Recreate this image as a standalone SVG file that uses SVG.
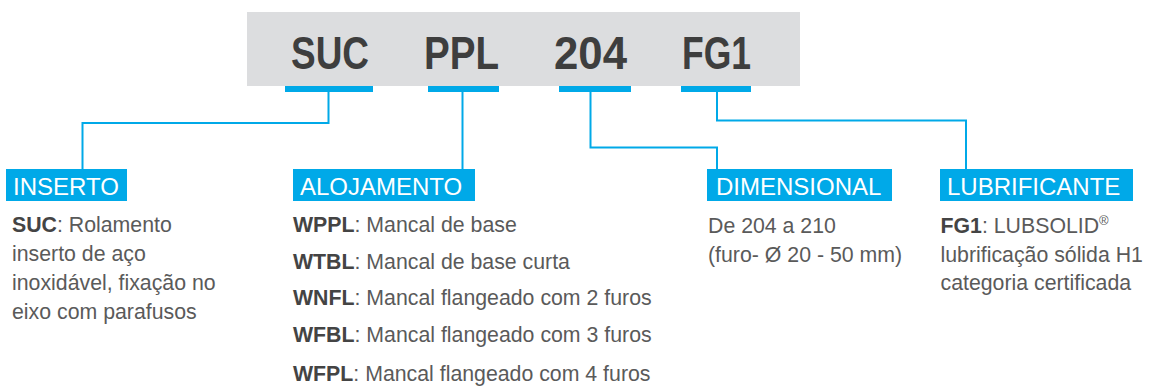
<svg xmlns="http://www.w3.org/2000/svg" width="1157" height="387" viewBox="0 0 1157 387">
<style>
.code{font-family:"Liberation Sans Narrow","Liberation Sans",Arial,sans-serif;font-weight:bold;font-size:47px;fill:#3e3e3e}
.bar{fill:#00a9e8}
.lbox{fill:#00a9e8}
.ltxt{font-family:"Liberation Sans",Arial,sans-serif;font-size:24px;fill:#ffffff}
.desc{font-family:"Liberation Sans",Arial,sans-serif;font-size:21.3px;fill:#5a5a5a}
.b{font-weight:bold;fill:#444444}
.conn{fill:none;stroke:#00a9e8;stroke-width:2}
</style>
<rect width="1157" height="387" fill="#ffffff"/>
<g id="code">
<rect x="247" y="12" width="553" height="74" fill="#dcdddf"/>
<text class="code" x="291" y="69" textLength="78" lengthAdjust="spacingAndGlyphs">SUC</text>
<text class="code" x="424" y="69" textLength="75" lengthAdjust="spacingAndGlyphs">PPL</text>
<text class="code" x="554" y="69" textLength="73" lengthAdjust="spacingAndGlyphs">204</text>
<text class="code" x="682" y="69" textLength="69" lengthAdjust="spacingAndGlyphs">FG1</text>
<rect class="bar" x="285" y="86" width="88" height="6"/>
<rect class="bar" x="428" y="86" width="71" height="6"/>
<rect class="bar" x="559" y="86" width="72" height="6"/>
<rect class="bar" x="681" y="86" width="70" height="6"/>
</g>
<g id="connectors">
<polyline class="conn" points="328.5,92 328.5,123 82.5,123 82.5,170"/>
<polyline class="conn" points="462.5,92 462.5,170"/>
<polyline class="conn" points="590.5,92 590.5,147.5 717,147.5 717,170"/>
<polyline class="conn" points="717,92 717,120.5 966,120.5 966,170"/>
</g>
<g id="inserto">
<rect class="lbox" x="6" y="169" width="121" height="32"/>
<text class="ltxt" x="13" y="195">INSERTO</text>
<text class="desc" x="12" y="232"><tspan class="b">SUC</tspan>: Rolamento</text>
<text class="desc" x="12" y="261">inserto de aço</text>
<text class="desc" x="12" y="290">inoxidável, fixação no</text>
<text class="desc" x="12" y="318.5">eixo com parafusos</text>
</g>
<g id="alojamento">
<rect class="lbox" x="293" y="169" width="182" height="32"/>
<text class="ltxt" x="300" y="195">ALOJAMENTO</text>
<text class="desc" x="293" y="232"><tspan class="b">WPPL</tspan>: Mancal de base</text>
<text class="desc" x="293" y="268.5"><tspan class="b">WTBL</tspan>: Mancal de base curta</text>
<text class="desc" x="293" y="305"><tspan class="b">WNFL</tspan>: Mancal flangeado com 2 furos</text>
<text class="desc" x="293" y="341.5"><tspan class="b">WFBL</tspan>: Mancal flangeado com 3 furos</text>
<text class="desc" x="293" y="381"><tspan class="b">WFPL</tspan>: Mancal flangeado com 4 furos</text>
</g>
<g id="dimensional">
<rect class="lbox" x="707" y="169" width="185" height="32"/>
<text class="ltxt" x="716" y="195">DIMENSIONAL</text>
<text class="desc" x="708" y="232.5">De 204 a 210</text>
<text class="desc" x="708" y="261.5">(furo- Ø 20 - 50 mm)</text>
</g>
<g id="lubrificante">
<rect class="lbox" x="940" y="169" width="193" height="32"/>
<text class="ltxt" x="947" y="195">LUBRIFICANTE</text>
<text class="desc" x="940.5" y="232.5"><tspan class="b">FG1</tspan>: LUBSOLID<tspan font-size="13" dy="-8">®</tspan></text>
<text class="desc" x="940.5" y="261.5">lubrificação sólida H1</text>
<text class="desc" x="940.5" y="290">categoria certificada</text>
</g>
</svg>
